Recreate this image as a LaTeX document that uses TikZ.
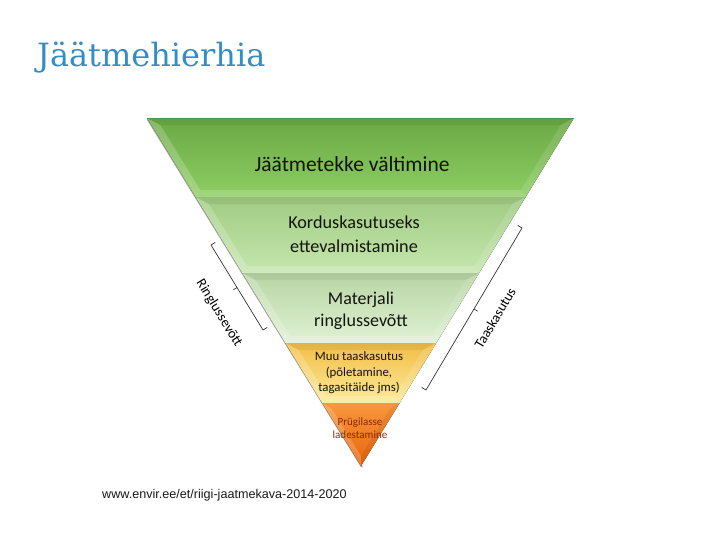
\documentclass[tikz,border=0pt]{standalone}
\usepackage{fontspec}
\setmainfont{Carlito}
\newfontfamily\titlefont{DejaVu Serif}
\newfontfamily\urlfont{Liberation Sans}
\usetikzlibrary{calc}
\definecolor{titleblue}{RGB}{52,141,196}
\definecolor{gA}{RGB}{106,168,68}
\definecolor{gB}{RGB}{142,206,100}
\definecolor{gC}{RGB}{160,204,130}
\definecolor{gD}{RGB}{198,230,174}
\definecolor{gE}{RGB}{184,214,164}
\definecolor{gF}{RGB}{224,241,212}
\definecolor{yA}{RGB}{243,190,72}
\definecolor{yB}{RGB}{251,234,152}
\definecolor{oA}{RGB}{248,152,60}
\definecolor{oB}{RGB}{232,100,15}
\definecolor{txtdark}{RGB}{20,20,15}
\definecolor{txtred}{RGB}{140,40,10}
\newcommand\pyrBand[4]{%
 \pgfmathsetmacro\pbLa{147+(#1-118)*0.6149}%
 \pgfmathsetmacro\pbRa{574-(#1-118)*0.6121}%
 \pgfmathsetmacro\pbLb{147+(#2-118)*0.6149}%
 \pgfmathsetmacro\pbRb{574-(#2-118)*0.6121}%
 \pgfmathsetmacro\pbYa{#1+7}%
 \pgfmathsetmacro\pbYb{#2-7}%
 \pgfmathsetmacro\pbLc{147+(\pbYa-118)*0.6149+9}%
 \pgfmathsetmacro\pbRc{574-(\pbYa-118)*0.6121-9}%
 \pgfmathsetmacro\pbLd{147+(\pbYb-118)*0.6149+9}%
 \pgfmathsetmacro\pbRd{574-(\pbYb-118)*0.6121-9}%
 \fill[top color=#3,bottom color=#4] (\pbLa,#1) -- (\pbRa,#1) -- (\pbRb,#2) -- (\pbLb,#2) -- cycle;
 \fill[white,opacity=.20] (\pbLa,#1) -- (\pbLc,\pbYa) -- (\pbLd,\pbYb) -- (\pbLb,#2) -- cycle;
 \fill[white,opacity=.18] (\pbLb,#2) -- (\pbLd,\pbYb) -- (\pbRd,\pbYb) -- (\pbRb,#2) -- cycle;
 \fill[black,opacity=.06] (\pbLa,#1) -- (\pbRa,#1) -- (\pbRc,\pbYa) -- (\pbLc,\pbYa) -- cycle;
 \fill[white,opacity=.12] (\pbRa,#1) -- (\pbRc,\pbYa) -- (\pbRd,\pbYb) -- (\pbRb,#2) -- cycle;
}
\tikzset{
  lbl/.style={inner sep=0pt, align=center, text=txtdark},
  brk/.style={draw=black!80, line width=0.7pt, line join=round},
}
\begin{document}
\begin{tikzpicture}[x=1pt,y=-1pt]
\useasboundingbox (0,0) rectangle (718,539);
% title
\node[anchor=base west, inner sep=0pt, text=titleblue, font=\titlefont\fontsize{32}{38}\selectfont] (title) at (37,66) {Jäätmehierhia};
% soft shadow along outer edges
\draw[black!30, line width=2pt] (147.5,119) -- (362,467);
% bands
\pyrBand{118}{197}{gA}{gB}
\pyrBand{197}{273}{gC}{gD}
\pyrBand{273}{343}{gE}{gF}
\pyrBand{343}{403}{yA}{yB}
\fill[top color=oA, bottom color=oB] (322.2,403) -- (399.6,403) -- (361,466) -- cycle;
\fill[white,opacity=.18] (322.2,403) -- (332,409) -- (361,456) -- (361,466) -- cycle;
\fill[black,opacity=.06] (399.6,403) -- (390,409) -- (361,456) -- (361,466) -- cycle;
\draw[green!40!black!70, line width=0.8pt] (147,118) -- (574,118);
% labels
\node[lbl, font=\fontsize{21.5}{26}\selectfont] (t1) at (352,164) {Jäätmetekke vältimine};
\node[lbl, font=\fontsize{18.2}{24}\selectfont] (t2) at (354,234) {Korduskasutuseks\\ettevalmistamine};
\node[lbl, font=\fontsize{18}{22.5}\selectfont] (t3) at (361,311) {Materjali\\ringlussevõtt};
\node[lbl, font=\fontsize{12.8}{15.5}\selectfont] (t4) at (359,373) {Muu taaskasutus\\(põletamine,\\tagasitäide jms)};
\node[lbl, text=txtred, font=\fontsize{11}{12.5}\selectfont] (t5) at (360,428) {Prügilasse\\ladestamine};
% left bracket
\coordinate (rA) at (211,245);
\coordinate (rB) at (263,330);
\coordinate (rM) at ($(rA)!0.5!(rB)$);
\draw[brk] ($(rA)+(4.3,-2.6)$) -- (rA) -- (rB) -- ($(rB)+(4.3,-2.6)$);
\draw[brk] (rM) -- ++(-3.6,2.2);
\node[lbl, rotate=-58.4, font=\fontsize{14}{16}\selectfont, text=black] (ring) at (219,313) {Ringlussevõtt};
% right bracket
\coordinate (rC) at (522,228);
\coordinate (rD) at (426,390);
\coordinate (rN) at ($(rC)!0.5!(rD)$);
\draw[brk] ($(rC)+(-4.3,-2.6)$) -- (rC) -- (rD) -- ($(rD)+(-4.3,-2.6)$);
\draw[brk] (rN) -- ++(3.6,2.2);
\node[lbl, rotate=59.3, font=\fontsize{14}{16}\selectfont, text=black] (taas) at (495,318) {Taaskasutus};
% source
\node[anchor=base west, inner sep=0pt, text=black!90, font=\urlfont\fontsize{12.6}{14}\selectfont] (src) at (102,498) {www.envir.ee/et/riigi-jaatmekava-2014-2020};
\end{tikzpicture}
\end{document}
